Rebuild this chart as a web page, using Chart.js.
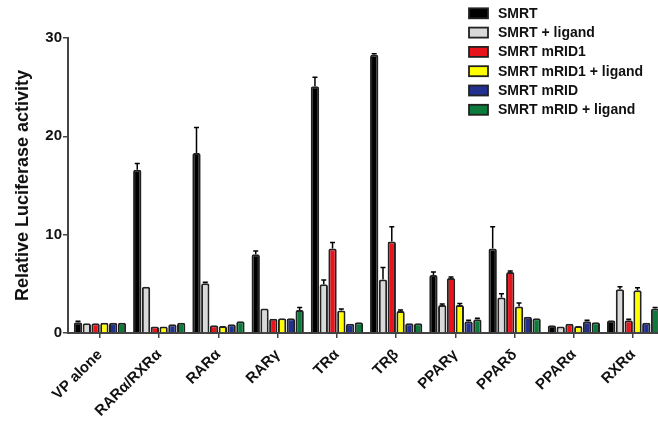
<!DOCTYPE html>
<html>
<head>
<meta charset="utf-8">
<script src="https://cdn.jsdelivr.net/npm/chart.js@4/dist/chart.umd.min.js"></script>
<style>
  html, body { margin: 0; padding: 0; background: #fff; }
  #wrap { width: 658px; height: 422px; position: relative; }
</style>
</head>
<body>
<div id="wrap"><canvas id="myBar"></canvas></div>
<script>
const categories = ['VP alone', 'RARα/RXRα', 'RARα', 'RARγ', 'TRα', 'TRβ', 'PPARγ', 'PPARδ', 'PPARα', 'RXRα'];
const seriesNames = ['SMRT', 'SMRT + ligand', 'SMRT mRID1', 'SMRT mRID1 + ligand', 'SMRT mRID', 'SMRT mRID + ligand'];
const seriesColors = ['#000000', '#d9d9d9', '#e8141c', '#ffff00', '#22318f', '#0c7a3a'];
const yTicks = [0, 10, 20, 30];

// bar heights
const smrt        = [1.1, 16.6, 18.3, 8.0, 25.1, 28.3, 5.9, 8.6, 0.8, 1.3];
const smrtLig     = [1.0, 4.7, 5.05, 2.5, 4.95, 5.45, 2.85, 3.6, 0.65, 4.45];
const mrid1       = [1.0, 0.65, 0.8, 1.45, 8.6, 9.3, 5.6, 6.2, 0.95, 1.3];
const mrid1Lig    = [1.05, 0.65, 0.7, 1.5, 2.3, 2.25, 2.85, 2.7, 0.7, 4.35];
const mrid        = [1.05, 0.9, 0.9, 1.5, 0.95, 1.0, 1.2, 1.65, 1.2, 1.05];
const mridLig     = [1.05, 1.05, 1.2, 2.35, 1.1, 1.0, 1.4, 1.5, 1.1, 2.5];

// top of error bars
const smrtErr     = [1.2, 17.25, 20.9, 8.35, 26.0, 28.4, 6.2, 10.8, 0.85, 1.35];
const smrtLigErr  = [1.05, 4.75, 5.15, 2.55, 5.4, 6.65, 2.95, 4.0, 0.7, 4.7];
const mrid1Err    = [1.05, 0.7, 0.85, 1.5, 9.2, 10.8, 5.7, 6.3, 1.0, 1.4];
const mrid1LigErr = [1.1, 0.7, 0.75, 1.55, 2.45, 2.35, 3.0, 3.05, 0.75, 4.6];
const mridErr     = [1.1, 0.95, 0.95, 1.55, 1.0, 1.05, 1.3, 1.7, 1.3, 1.1];
const mridLigErr  = [1.1, 1.1, 1.25, 2.6, 1.15, 1.05, 1.5, 1.55, 1.15, 2.6];

const values = [smrt, smrtLig, mrid1, mrid1Lig, mrid, mridLig];
const errors = [smrtErr, smrtLigErr, mrid1Err, mrid1LigErr, mridErr, mridLigErr];

const FONT = 'Liberation Sans, Arial, sans-serif';

const errorBars = {
  id: 'errorBars',
  afterDatasetsDraw(chart) {
    const ctx = chart.ctx;
    const y = chart.scales.y;
    ctx.save();
    ctx.strokeStyle = '#000';
    ctx.lineWidth = 1.5;
    chart.data.datasets.forEach((ds, i) => {
      const meta = chart.getDatasetMeta(i);
      meta.data.forEach((bar, j) => {
        const top = y.getPixelForValue(errors[i][j]);
        if (top >= bar.y - 0.5) return;
        ctx.beginPath();
        ctx.moveTo(bar.x, bar.y);
        ctx.lineTo(bar.x, top);
        ctx.moveTo(bar.x - 2.5, top);
        ctx.lineTo(bar.x + 2.5, top);
        ctx.stroke();
      });
    });
    ctx.restore();
  }
};

const boxLegend = {
  id: 'boxLegend',
  afterDraw(chart) {
    const ctx = chart.ctx;
    ctx.save();
    ctx.font = 'bold 14px ' + FONT;
    ctx.textBaseline = 'middle';
    chart.data.datasets.forEach((ds, i) => {
      const cy = 13.3 + i * 19.3;
      ctx.fillStyle = ds.backgroundColor;
      ctx.fillRect(469, cy - 5, 19, 10);
      ctx.strokeStyle = '#222';
      ctx.lineWidth = 1.8;
      ctx.strokeRect(469, cy - 5, 19, 10);
      ctx.fillStyle = '#111';
      ctx.fillText(ds.label, 498, cy + 0.5);
    });
    ctx.restore();
  }
};

const datasets = seriesNames.map((name, i) => ({
  label: name,
  data: values[i],
  backgroundColor: seriesColors[i],
  borderColor: '#222',
  borderWidth: 2,
  borderRadius: { topLeft: 2, topRight: 2 },
  categoryPercentage: 0.89,
  barPercentage: 0.95,
}));

const myChart = new Chart(document.getElementById('myBar').getContext('2d'), {
  type: 'bar',
  data: { labels: categories, datasets },
  options: {
    responsive: true,
    maintainAspectRatio: false,
    animation: false,
    layout: { padding: { top: 38, right: 0, left: 0, bottom: 0 } },
    plugins: { legend: { display: false }, tooltip: { enabled: false } },
    scales: {
      x: {
        grid: { display: true, drawOnChartArea: false, offset: false, color: '#444', lineWidth: 1.5, tickLength: 5 },
        border: { color: '#444', width: 2 },
        ticks: {
          color: '#111',
          font: { family: FONT, size: 15, weight: 'bold' },
          maxRotation: 45, minRotation: 45, padding: 8, autoSkip: false,
        },
        afterFit(scale) {
          scale.height = 89;
          // the last group runs off the right edge, as in the original figure
          scale._startValue = -0.54;
          scale._valueRange = 9.96;
        },
      },
      y: {
        min: 0, max: 30,
        afterBuildTicks(scale) { scale.ticks = yTicks.map((v) => ({ value: v })); },
        grid: { display: true, drawOnChartArea: false, color: '#444', lineWidth: 1.5, tickLength: 5 },
        border: { color: '#444', width: 2 },
        ticks: { color: '#111', font: { family: FONT, size: 15, weight: 'bold' }, padding: 1 },
        title: {
          display: true,
          text: 'Relative Luciferase activity',
          color: '#111',
          font: { family: FONT, size: 18, weight: 'bold' },
          padding: { top: 12, bottom: 0 },
        },
        afterFit(scale) { scale.width = 68; },
      },
    },
  },
  plugins: [errorBars, boxLegend],
});
</script>
</body>
</html>
